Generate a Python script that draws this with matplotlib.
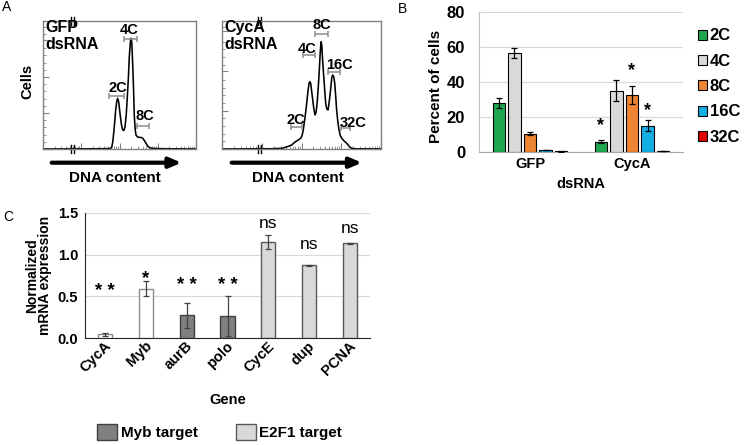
import matplotlib
matplotlib.use('Agg')
import matplotlib.pyplot as plt
import matplotlib.transforms as mtransforms
import numpy as np

plt.rcParams['font.family'] = ['Liberation Sans', 'DejaVu Sans']

# ---------------- Panel A data (flow cytometry histograms) ----------------
gfp_dna = [0, 37.3, 43.8, 44.9, 45.6, 46.4, 47.1, 47.5, 48.2, 48.8, 49.5, 50.3, 51.2, 52.1,
           52.9, 53.6, 54.4, 55.1, 55.8, 56.4, 57.1, 57.5, 58.0, 58.6, 59.2, 59.7, 60.3,
           60.8, 61.8, 62.9, 64.1, 65.2, 66.0, 66.7, 67.8, 68.8, 69.9, 72.1, 80.8, 100]
gfp_cells = [0, 0.2, 0.4, 1.2, 5.5, 14.8, 24.2, 30.5, 37.1, 39.6, 36.7, 28.1, 19.5, 14.8,
             14.5, 17.2, 26.6, 40.6, 55.5, 71.9, 83.6, 86.5, 83.6, 67.2, 46.1, 25.0, 14.8,
             10.9, 9.4, 9.1, 9.0, 8.4, 7.0, 5.7, 3.5, 1.8, 0.9, 0.4, 0.2, 0]
cyca_dna = [0, 30.2, 37.7, 41.5, 43.8, 45.9, 48.0, 49.5, 50.3, 51.1, 52.0, 52.8, 53.6, 54.3,
            54.8, 55.3, 55.8, 56.8, 57.7, 58.5, 59.2, 59.9, 60.6, 61.2, 61.8, 62.3, 62.8,
            63.2, 63.7, 64.5, 65.2, 65.9, 66.7, 67.5, 68.4, 69.0, 69.6, 70.3, 70.9, 71.5,
            72.1, 72.8, 73.6, 74.4, 75.3, 76.7, 78.4, 79.6, 80.5, 81.8, 83.6, 100]
cyca_cells = [0, 0.2, 0.5, 2.0, 3.1, 5.5, 7.0, 8.4, 10.2, 14.8, 22.7, 30.5, 39.8, 47.4,
              51.6, 52.6, 51.2, 40.9, 32.0, 26.6, 28.9, 37.0, 49.2, 61.7, 75.8, 83.8, 80.5,
              71.1, 61.7, 47.7, 35.7, 31.3, 30.5, 37.5, 47.4, 55.5, 57.8, 56.3, 51.3, 41.4,
              30.5, 21.9, 14.8, 10.5, 8.4, 6.3, 4.5, 2.7, 1.3, 0.5, 0.2, 0]

gfp_gate_labels = ['2C', '4C', '8C']
gfp_gate_center = [48.1, 57.05, 65.45]
gfp_gate_half = [5.0, 4.15, 3.85]
gfp_gate_y = [41.4, 85.9, 18.0]
gfp_label_x = [48.7, 56.5, 66.4]
gfp_label_y = [44.8, 89.5, 22.7]

cyca_gate_labels = ['2C', '4C', '8C', '16C', '32C']
cyca_gate_center = [46.85, 54.8, 62.7, 70.55, 77.65]
cyca_gate_half = [3.65, 3.7, 4.2, 3.65, 2.85]
cyca_gate_y = [17.0, 73.4, 89.6, 60.4, 16.2]
cyca_label_x = [46.2, 53.5, 62.9, 73.8, 82.6]
cyca_label_y = [19.5, 74.8, 93.5, 62.3, 17.0]

# ---------------- Panel B data ----------------
dsrna = ['GFP', 'CycA']
ploidy = ['2C', '4C', '8C', '16C', '32C']
pct_2c = [28.0, 6.0]
pct_4c = [56.6, 35.1]
pct_8c = [10.5, 32.7]
pct_16c = [1.2, 15.0]
pct_32c = [0.3, 0.6]
err_2c = [2.7, 1.1]
err_4c = [3.1, 6.0]
err_8c = [0.9, 5.0]
err_16c = [0.2, 3.2]
err_32c = [0.05, 0.1]
ploidy_colors = ['#1fa84f', '#d9d9d9', '#ee8434', '#14aee6', '#e00000']
starB_series = [0, 2, 3]
starB_y = [12.7, 43.8, 21.3]

# ---------------- Panel C data ----------------
genes = ['CycA', 'Myb', 'aurB', 'polo', 'CycE', 'dup', 'PCNA']
expr = [0.045, 0.59, 0.272, 0.26, 1.154, 0.876, 1.135]
expr_err = [0.018, 0.09, 0.152, 0.24, 0.082, 0.006, 0.01]
target = ['none', 'none', 'Myb', 'Myb', 'E2F1', 'E2F1', 'E2F1']
sig = ['* *', '*', '* *', '* *', 'ns', 'ns', 'ns']
sig_y = [0.51, 0.655, 0.57, 0.57, 1.317, 1.065, 1.257]

fill_map = {'none': 'white', 'Myb': '#808080', 'E2F1': '#d9d9d9'}
edge_map = {'none': '#8c8c8c', 'Myb': '#404040', 'E2F1': '#595959'}

fig = plt.figure(figsize=(7.44, 4.45), dpi=100)
W, H = 744.0, 445.0


def frac(left, top, right, bottom):
    return [left / W, 1 - bottom / H, (right - left) / W, (bottom - top) / H]


def draw_hist(ax, dna, cells, labels, gc, gh, gy, lx, ly, yt, brk, title, arrow_x):
    ax.plot(dna, cells, color='black', lw=1.15, solid_joinstyle='round')
    ax.set_xlim(0, 100)
    ax.set_ylim(0, 100)
    for s in ax.spines.values():
        s.set_color('#808080')
        s.set_linewidth(1.0)
    ax.errorbar(gc, gy, xerr=gh, fmt='none', ecolor='#8c8c8c', elinewidth=1.1,
                capsize=2.2, capthick=1.1)
    for lab, x, y in zip(labels, lx, ly):
        ax.text(x, y, lab, ha='center', va='baseline', fontsize=10.5, fontweight='bold')
    ax.set_yticks(yt)
    step = yt[1] - yt[0]
    ax.set_yticks([yt[0] + step * k / 5 for k in range(1, 20) if k % 5 and yt[0] + step * k / 5 < 100],
                  minor=True)
    ax.set_xticks([0, 25, 50, 75, 100])
    ax.set_xticks([d * 25 + 25 * np.log10(m) for d in range(4) for m in range(2, 10)], minor=True)
    ax.tick_params(which='both', direction='in', colors='#808080', labelleft=False,
                   labelbottom=False, top=False, right=False)
    ax.tick_params(which='major', length=4)
    ax.tick_params(which='minor', length=2)
    trans = mtransforms.blended_transform_factory(ax.transData, ax.transAxes)
    for yc in (0.0, 1.0):
        for dx in (-0.8, 0.8):
            ax.plot([brk + dx, brk + dx], [yc - 0.03, yc + 0.03], transform=trans,
                    color='black', lw=1.0, clip_on=False)
    ax.text(0.015, 1.005, title, transform=ax.transAxes, ha='left', va='top',
            fontsize=11.5, fontweight='bold', linespacing=1.1)
    ax.annotate('', xy=(arrow_x[1], -0.107), xytext=(arrow_x[0], -0.107),
                xycoords='axes fraction',
                arrowprops=dict(arrowstyle='-|>,head_length=0.7,head_width=0.3', lw=3,
                                color='black', shrinkA=0, shrinkB=0, mutation_scale=10))


axA1 = fig.add_axes(frac(43, 21, 196, 149))
draw_hist(axA1, gfp_dna, gfp_cells, gfp_gate_labels, gfp_gate_center, gfp_gate_half,
          gfp_gate_y, gfp_label_x, gfp_label_y, [0, 28.1, 56.5, 85.2], 19.2,
          'GFP\ndsRNA', (0.057, 0.905))
axA2 = fig.add_axes(frac(222, 21, 381, 149))
draw_hist(axA2, cyca_dna, cyca_cells, cyca_gate_labels, cyca_gate_center, cyca_gate_half,
          cyca_gate_y, cyca_label_x, cyca_label_y, [0, 29.9, 60.9, 92.4], 23.7,
          'CycA\ndsRNA', (0.061, 0.880))
fig.text(114.5 / W, 1 - 181.7 / H, 'DNA content', ha='center', va='baseline',
         fontsize=11, fontweight='bold')
fig.text(297.5 / W, 1 - 181.7 / H, 'DNA content', ha='center', va='baseline',
         fontsize=11, fontweight='bold')
fig.text(27.5 / W, 1 - 81.7 / H, 'Cells', ha='center', va='center', rotation=90,
         fontsize=10.5, fontweight='bold')

# ---------------- Panel B ----------------
axB = fig.add_axes(frac(479, 12, 683, 152))
xB = np.arange(len(dsrna))
series_vals = [pct_2c, pct_4c, pct_8c, pct_16c, pct_32c]
series_err = [err_2c, err_4c, err_8c, err_16c, err_32c]
spacing, bw = 0.152, 0.127
bars_B = []
for i, (vals, errs) in enumerate(zip(series_vals, series_err)):
    b = axB.bar(xB + (i - 2) * spacing, vals, bw, color=ploidy_colors[i],
                edgecolor='black', linewidth=0.8, zorder=3, label=ploidy[i])
    axB.errorbar(xB + (i - 2) * spacing, vals, yerr=errs, fmt='none', ecolor='black',
                 elinewidth=0.9, capsize=2.2, capthick=0.9, zorder=4)
    bars_B.append(b)
for s, y in zip(starB_series, starB_y):
    axB.text(xB[1] + (s - 2) * spacing, y, '*', ha='center', va='baseline',
             fontsize=13, fontweight='bold')
axB.set_xlim(-0.5, 1.5)
axB.set_ylim(0, 80)
axB.set_yticks([0, 20, 40, 60, 80])
axB.set_xticks(xB)
axB.set_xticklabels(dsrna)
axB.yaxis.grid(True, color='#d9d9d9', lw=0.9, zorder=0)
axB.set_axisbelow(True)
for side in ('top', 'right'):
    axB.spines[side].set_visible(False)
axB.spines['left'].set_color('#bfbfbf')
axB.spines['bottom'].set_color('#a6a6a6')
axB.tick_params(axis='y', length=0, pad=10, labelsize=12)
axB.tick_params(axis='x', length=0, pad=3.7, labelsize=10.5)
for lab in axB.get_yticklabels() + axB.get_xticklabels():
    lab.set_fontweight('bold')
axB.text(0.5, (152 - 188.3) / 140, 'dsRNA', transform=axB.transAxes, ha='center',
         va='baseline', fontsize=10.5, fontweight='bold')
axB.text(-0.211, 0.466, 'Percent of cells', transform=axB.transAxes, rotation=90,
         ha='center', va='center', fontsize=11, fontweight='bold')
legB = axB.legend(handles=bars_B, labels=ploidy, loc='upper left',
                  bbox_to_anchor=(698 / W, 1 - 28.5 / H), bbox_transform=fig.transFigure,
                  frameon=False, borderpad=0, borderaxespad=0, handlelength=0.55,
                  handleheight=0.55, handletextpad=0.15, labelspacing=0.62,
                  prop={'size': 12, 'weight': 'bold'})

# ---------------- Panel C ----------------
axC = fig.add_axes(frac(85, 213, 370, 338))
xC = np.arange(len(genes))
bars_C = axC.bar(xC, expr, 0.345, color=[fill_map[t] for t in target],
                 edgecolor=[edge_map[t] for t in target], linewidth=1.0, zorder=3)
axC.errorbar(xC, expr, yerr=expr_err, fmt='none', ecolor='#404040', elinewidth=0.9,
             capsize=2.2, capthick=0.9, zorder=4)
for x, s, y in zip(xC, sig, sig_y):
    if s == 'ns':
        axC.text(x, y, s, ha='center', va='baseline', fontsize=12.5)
    else:
        axC.text(x, y, s, ha='center', va='baseline', fontsize=13.5, fontweight='bold')
axC.set_xlim(-0.5, len(genes) - 0.5)
axC.set_ylim(0, 1.5)
axC.set_yticks([0, 0.5, 1.0, 1.5])
axC.set_yticklabels(['0.0', '0.5', '1.0', '1.5'])
axC.yaxis.grid(True, color='#d9d9d9', lw=0.9, zorder=0)
axC.set_axisbelow(True)
for side in ('top', 'right'):
    axC.spines[side].set_visible(False)
axC.spines['left'].set_color('#262626')
axC.spines['bottom'].set_color('#262626')
axC.tick_params(axis='y', length=0, pad=5, labelsize=10.5)
axC.tick_params(axis='x', length=0, pad=2, labelsize=10.5)
axC.set_xticks(xC)
axC.set_xticklabels(genes, rotation=45, ha='right', va='center', rotation_mode='anchor')
off = mtransforms.ScaledTranslation(4 / 100, -3 / 100, fig.dpi_scale_trans)
for lab in axC.get_xticklabels():
    lab.set_transform(lab.get_transform() + off)
for lab in axC.get_yticklabels() + axC.get_xticklabels():
    lab.set_fontweight('bold')
axC.text(0.5, (338 - 400) / 125, 'Gene', transform=axC.transAxes, ha='center',
         va='center', fontsize=10.5, fontweight='bold')
axC.text(-0.163, 0.5, 'Normalized\nmRNA expression', transform=axC.transAxes, rotation=90,
         ha='center', va='center', fontsize=10, fontweight='bold', linespacing=0.95)
fig.legend(handles=[bars_C[2], bars_C[4]], labels=['Myb target', 'E2F1 target'],
           loc='center left', bbox_to_anchor=(97 / W, 1 - 432 / H), ncol=2, frameon=False,
           borderpad=0, borderaxespad=0, handlelength=1.3, handleheight=1.25,
           handletextpad=0.25, columnspacing=2.5, prop={'size': 11, 'weight': 'bold'})

# panel letters
fig.text(2 / W, 1 - 0.4 / H, 'A', ha='left', va='top', fontsize=10)
fig.text(398 / W, 1 - 2.4 / H, 'B', ha='left', va='top', fontsize=10)
fig.text(3 / W, 1 - 210.4 / H, 'C', ha='left', va='top', fontsize=10)

fig.savefig('out.png', dpi=100)
